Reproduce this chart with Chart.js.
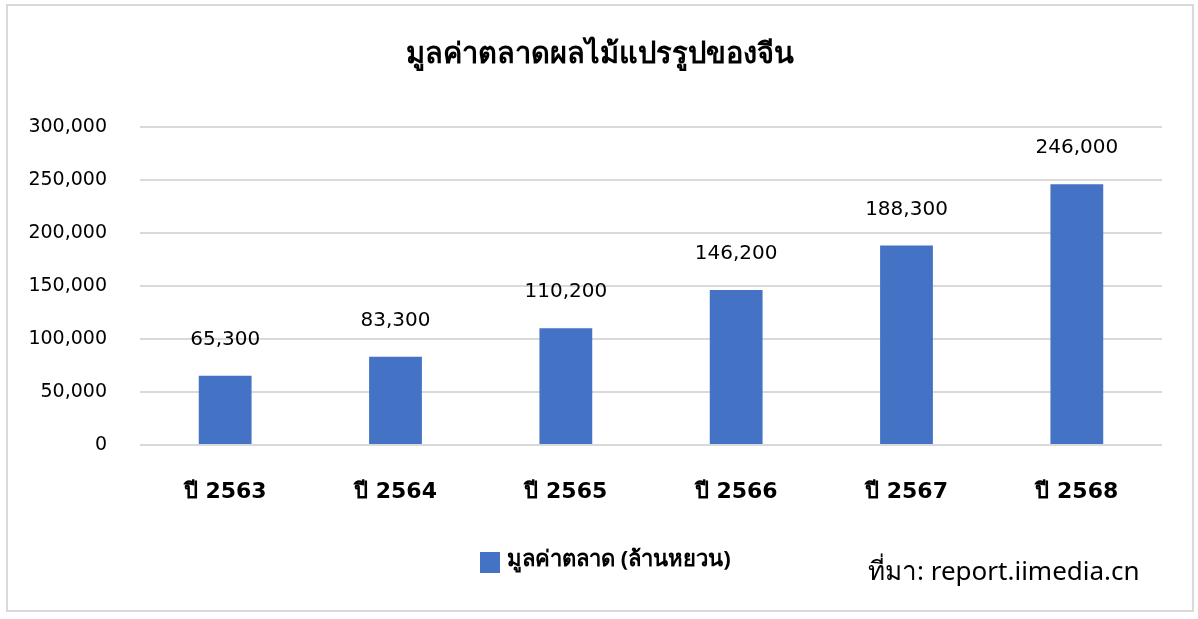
<!DOCTYPE html>
<html>
<head>
<meta charset="utf-8">
<script src="https://cdn.jsdelivr.net/npm/chart.js@4.4.1/dist/chart.umd.min.js"></script>
<style>
  html, body { margin: 0; padding: 0; background: #fff; }
  #wrap { width: 1198px; height: 619px; position: relative; }
</style>
</head>
<body>
<div id="wrap"><canvas id="marketChart" width="1198" height="619"></canvas></div>
<script>
const years = ["ปี 2563", "ปี 2564", "ปี 2565", "ปี 2566", "ปี 2567", "ปี 2568"];
const marketValues = [65300, 83300, 110200, 146200, 188300, 246000];
const chartTitle = "มูลค่าตลาดผลไม้แปรรูปของจีน";
const seriesName = "มูลค่าตลาด (ล้านหยวน)";
const sourceText = "ที่มา: report.iimedia.cn";

const FONT = "'Noto Sans', sans-serif";
const NUMFONT = "'DejaVu Sans', 'Noto Sans', sans-serif";
const barBlue = "#4472C4";

function fmt(v){
    return v.toLocaleString("en-US");
}

// title, border, value labels, legend, source
const extras = {
    id: 'extras',
    beforeDraw(chart){
        const c = chart.ctx;
        c.save();
        c.fillStyle = '#fff';
        c.fillRect(0, 0, chart.width, chart.height);
        c.strokeStyle = '#d9d9d9';
        c.lineWidth = 2;
        c.strokeRect(7, 5, 1186, 606);
        c.restore();
    },
    afterDraw(chart){
        const c = chart.ctx;
        c.save();
        c.fillStyle = '#000';
        c.textAlign = 'center';
        c.textBaseline = 'middle';
        c.font = "bold 29px " + FONT;
        c.fillText(chartTitle, 600, 55);

        // value labels above bars
        c.font = "20px " + NUMFONT;
        const meta = chart.getDatasetMeta(0);
        meta.data.forEach((bar, i) => {
            c.fillText(fmt(chart.data.datasets[0].data[i]), bar.x, bar.y - 36);
        });

        // legend
        c.fillStyle = barBlue;
        c.fillRect(480, 552, 20, 21);
        c.fillStyle = '#000';
        c.textAlign = 'left';
        c.font = "bold 22px " + FONT;
        c.fillText(seriesName, 507, 560);

        // source
        c.font = "26px " + FONT;
        c.fillText(sourceText, 868, 573);
        c.restore();
    }
};

const ctx = document.getElementById("marketChart").getContext('2d');
const marketChart = new Chart(ctx, {
    type: 'bar',
    data: {
        labels: years,
        datasets: [{
            label: seriesName,
            data: marketValues,
            backgroundColor: barBlue,
            borderWidth: 0,
            categoryPercentage: 1,
            barPercentage: 0.31
        }]
    },
    options: {
        responsive: false,
        animation: false,
        layout: { padding: { top: 127, right: 36, bottom: 0, left: 0 } },
        plugins: {
            legend: { display: false },
            title: { display: false },
            tooltip: { enabled: false }
        },
        scales: {
            x: {
                grid: { display: false, drawTicks: false },
                border: { display: false },
                ticks: { color: '#000', font: { family: NUMFONT, size: 22, weight: 'bold' }, padding: 34 },
                afterFit(scale){ scale.height = 174; }
            },
            y: {
                min: 0,
                max: 300000,
                ticks: {
                    stepSize: 50000,
                    color: '#000',
                    font: { family: NUMFONT, size: 19 },
                    padding: 33,
                    callback: v => fmt(v)
                },
                grid: { color: '#d9d9d9', lineWidth: 2, drawTicks: false },
                border: { display: false },
                afterFit(scale){ scale.width = 140; }
            }
        }
    },
    plugins: [extras]
});
</script>
</body>
</html>
